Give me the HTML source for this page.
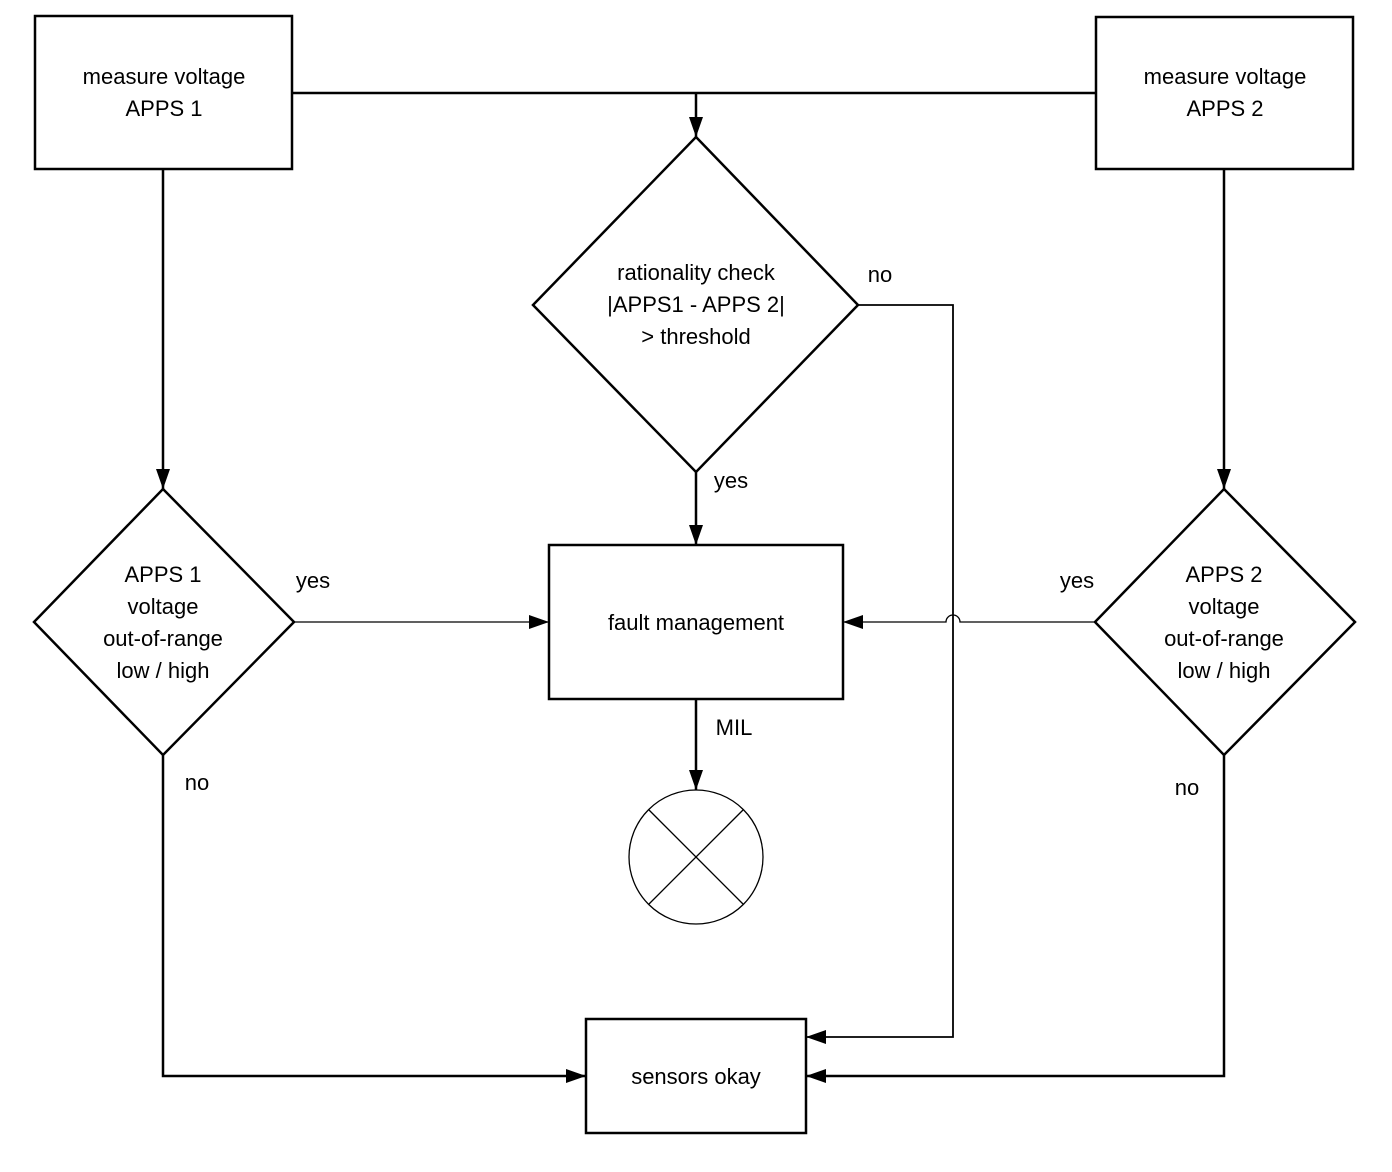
<!DOCTYPE html>
<html><head><style>
html,body{margin:0;padding:0;background:#fff;}
svg{display:block;}
text{font-family:"Liberation Sans",Arial,sans-serif;font-size:22px;fill:#000;text-anchor:middle;}
</style></head><body>
<svg width="1392" height="1172" viewBox="0 0 1392 1172" xmlns="http://www.w3.org/2000/svg">
<defs>
<marker id="a" markerWidth="20" markerHeight="14" refX="20" refY="7" orient="auto" markerUnits="userSpaceOnUse">
<path d="M0,0 L20,7 L0,14 Z" fill="#000"/>
</marker>
</defs>
<g fill="none" stroke="#000" stroke-width="2.5">
<rect x="35" y="16" width="257" height="153"/>
<rect x="1096" y="17" width="257" height="152"/>
<polygon points="696,137 858,305 696,472 533,305"/>
<polygon points="163,489 294,622 163,755 34,622"/>
<polygon points="1224,489 1355,622 1224,755 1095,622"/>
<rect x="549" y="545" width="294" height="154"/>
<rect x="586" y="1019" width="220" height="114"/>
<line x1="292" y1="93" x2="1096" y2="93"/>
<line x1="696" y1="93" x2="696" y2="137" marker-end="url(#a)"/>
<line x1="163" y1="169" x2="163" y2="489" marker-end="url(#a)"/>
<line x1="1224" y1="169" x2="1224" y2="489" marker-end="url(#a)"/>
<line x1="696" y1="472" x2="696" y2="545" marker-end="url(#a)"/>
<line x1="696" y1="699" x2="696" y2="790" marker-end="url(#a)"/>
<polyline points="858,305 953,305 953,1037 806,1037" stroke-width="1.8" marker-end="url(#a)"/>
<polyline points="163,755 163,1076 586,1076" marker-end="url(#a)"/>
<polyline points="1224,755 1224,1076 806,1076" marker-end="url(#a)"/>
</g>
<g fill="none" stroke="#000" stroke-width="1.3">
<line x1="294" y1="622" x2="549" y2="622" marker-end="url(#a)"/>
<path d="M1095,622 L960,622 A7,7 0 0 0 946,622 L843,622" marker-end="url(#a)"/>
<circle cx="696" cy="857" r="67"/>
<line x1="649" y1="810" x2="743" y2="904"/>
<line x1="743" y1="810" x2="649" y2="904"/>
</g>
<text x="164" y="84">measure voltage</text>
<text x="164" y="116">APPS 1</text>
<text x="1225" y="84">measure voltage</text>
<text x="1225" y="116">APPS 2</text>
<text x="696" y="280">rationality check</text>
<text x="696" y="312">|APPS1 - APPS 2|</text>
<text x="696" y="344">&gt; threshold</text>
<text x="880" y="282">no</text>
<text x="731" y="488">yes</text>
<text x="163" y="582">APPS 1</text>
<text x="163" y="614">voltage</text>
<text x="163" y="646">out-of-range</text>
<text x="163" y="678">low / high</text>
<text x="1224" y="582">APPS 2</text>
<text x="1224" y="614">voltage</text>
<text x="1224" y="646">out-of-range</text>
<text x="1224" y="678">low / high</text>
<text x="313" y="588">yes</text>
<text x="1077" y="588">yes</text>
<text x="696" y="630">fault management</text>
<text x="734" y="735">MIL</text>
<text x="197" y="790">no</text>
<text x="1187" y="795">no</text>
<text x="696" y="1084">sensors okay</text>
</svg>
</body></html>
